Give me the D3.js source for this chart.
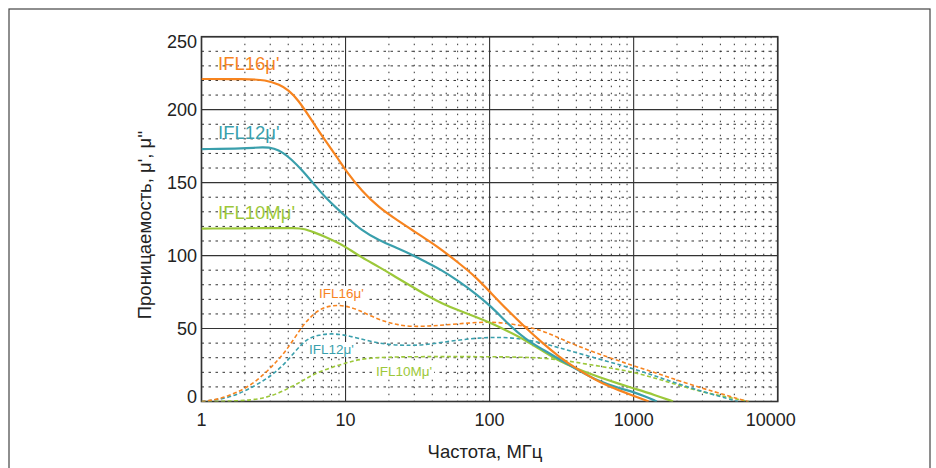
<!DOCTYPE html>
<html>
<head>
<meta charset="utf-8">
<script src="https://cdn.jsdelivr.net/npm/d3@7"></script>
<style>
  body { margin: 0; background: #fff; }
  text { font-family: "Liberation Sans", Arial, sans-serif; }
</style>
</head>
<body>
<div id="chart"></div>
<script>
// frequency (MHz) / permeability points
var ifl16re = [[1,221],[2,221],[2.8,220.5],[3.5,217],[4,213.5],[4.67,207],[5.8,193],[7.2,179],[9,165.5],[10,158.5],[13,144],[17,133],[23,124],[29,117.5],[38,110],[46.5,104],[60,95.5],[80,85.5],[103,74],[135,62],[176,51],[230,40.5],[300,31],[400,22.5],[580,13],[800,7.5],[1000,3.8],[1270,0]];
var ifl12re = [[1,173],[2,173.3],[2.7,174.5],[3.2,173.5],[3.7,170.5],[4.2,166],[5,158.5],[5.8,151],[7.2,140],[9,131],[10,127],[13,117],[17,110.5],[23,105],[29,100.5],[37,95],[46.5,90],[60,83],[80,74],[103,65],[135,53],[176,43],[230,36],[300,29.5],[400,22],[580,13.5],[800,9],[1000,6.5],[1200,3.5],[1450,0]];
var ifl10re = [[1,118.5],[3,118.8],[4.5,119],[5.2,118.3],[6,116],[7.2,113],[9,108.4],[10,106],[13,98.5],[17,92.4],[23,84.5],[29,78.7],[37,72.5],[46.5,67.3],[60,62.7],[80,58],[103,53.6],[135,48],[176,42.2],[230,35],[300,28],[400,22.5],[580,16.5],[800,12],[1000,9],[1400,4.5],[1880,0]];
var ifl16im = [[1,0],[1.3,1.3],[1.71,5.6],[2.2,11],[2.76,19.3],[3.3,27],[3.8,34],[4.4,43],[4.96,51],[5.6,57],[6.47,62.7],[7.5,65.3],[9,66.1],[10.5,65],[12.3,62.7],[15,58.5],[18.8,54.7],[23,52.5],[29,51.3],[38,51.7],[49,52.4],[70,53.8],[103,54.7],[150,53],[232,49],[325,42],[550,33],[1000,24.5],[1700,17],[3000,9],[4500,4],[6200,0]];
var ifl12im = [[1,0],[1.5,2],[2,7],[2.76,14.7],[3.3,20.5],[3.8,26.2],[4.4,33.5],[4.96,39.5],[5.6,43.5],[6.47,45.6],[8,46.7],[10,45.5],[12.3,43.3],[16,40.5],[20.9,38.7],[28,38.4],[35.6,38.7],[60,42.2],[103,44.4],[176,43.3],[300,37],[550,29.6],[1000,22.5],[1700,14.7],[3000,6.7],[5300,0]];
var ifl10im = [[1,0],[1.7,0.3],[2.2,1],[2.76,2.5],[3.4,5.5],[4.23,10.2],[5,14],[5.82,18],[7.2,21.8],[9,25],[11,27.5],[13.6,29.6],[20.9,30.7],[60,30.8],[176,30.6],[300,29],[550,24.5],[1000,20.4],[1700,13.6],[2900,6.7],[4500,3],[6300,0]];

var xTicks = [1, 10, 100, 1000, 10000];
var yTicks = [0, 50, 100, 150, 200, 250];
var colors = { o: "#f7841f", t: "#3a9fac", g: "#9cc83a" };

var W = 936, H = 468;
var pL = 201.5, pR = 777.7, pT = 36.7, pB = 401.5;

var svg = d3.select("#chart").append("svg")
    .attr("width", W)
    .attr("height", H);

svg.append("clipPath").attr("id", "plot")
  .append("rect")
    .attr("x", pL).attr("y", pT - 2)
    .attr("width", pR - pL).attr("height", pB - pT + 2);

// outer frame (bottom edge is off the picture)
svg.append("rect")
    .attr("x", 9).attr("y", 9)
    .attr("width", 921).attr("height", 480)
    .attr("fill", "none")
    .attr("stroke", "#444")
    .attr("stroke-width", 1.2);

var x = d3.scaleLog().domain([1, 10000]).range([pL, pR]);
var y = d3.scaleLinear().domain([0, 250]).range([pB, pT]);

// minor grid
var minorX = [];
for (var d = 1; d < 10000; d *= 10) {
  for (var k = 2; k <= 9; k++) minorX.push(d * k);
}
var minorY = d3.range(10, 250, 10).filter(function(v) { return v % 50 !== 0; });

var grid = svg.append("g");
grid.selectAll("line.mx").data(minorX).enter().append("line")
    .attr("x1", function(d) { return x(d); })
    .attr("x2", function(d) { return x(d); })
    .attr("y1", pT).attr("y2", pB)
    .attr("stroke", "#333")
    .attr("stroke-width", 1)
    .attr("stroke-dasharray", "1.5,5.5");
grid.selectAll("line.my").data(minorY).enter().append("line")
    .attr("x1", pL).attr("x2", pR)
    .attr("y1", function(d) { return y(d); })
    .attr("y2", function(d) { return y(d); })
    .attr("stroke", "#333")
    .attr("stroke-width", 1)
    .attr("stroke-dasharray", "2.5,4.5");

// major grid
grid.selectAll("line.Mx").data(xTicks).enter().append("line")
    .attr("x1", function(d) { return x(d); })
    .attr("x2", function(d) { return x(d); })
    .attr("y1", pT).attr("y2", pB)
    .attr("stroke", "#333").attr("stroke-width", 1.1);
grid.selectAll("line.My").data(yTicks).enter().append("line")
    .attr("x1", pL).attr("x2", pR)
    .attr("y1", function(d) { return y(d); })
    .attr("y2", function(d) { return y(d); })
    .attr("stroke", "#333").attr("stroke-width", 1.1);

svg.append("rect")
    .attr("x", pL).attr("y", pT)
    .attr("width", pR - pL).attr("height", pB - pT)
    .attr("fill", "none")
    .attr("stroke", "#333")
    .attr("stroke-width", 1.6);

// tick labels
svg.selectAll("text.yt").data(yTicks).enter().append("text")
    .attr("x", pL - 4.5)
    .attr("y", function(d) { return y(d); })
    .attr("dy", function(d) { return d === 0 ? "0.06em" : d === 250 ? "0.6em" : "0.34em"; })
    .attr("text-anchor", "end")
    .attr("font-size", 18)
    .attr("fill", "#222")
    .text(function(d) { return d; });

svg.selectAll("text.xt").data(xTicks).enter().append("text")
    .attr("x", function(d) { return d === 10000 ? x(d) - 7 : x(d); })
    .attr("y", 426)
    .attr("text-anchor", "middle")
    .attr("font-size", 18)
    .attr("fill", "#222")
    .text(function(d) { return d; });

// axis titles
svg.append("text")
    .attr("x", 485).attr("y", 458)
    .attr("text-anchor", "middle")
    .attr("font-size", 18.5)
    .attr("fill", "#222")
    .text("Частота, МГц");

svg.append("text")
    .attr("transform", "translate(151,225) rotate(-90)")
    .attr("text-anchor", "middle")
    .attr("font-size", 18.5)
    .attr("fill", "#222")
    .text("Проницаемость, μ', μ''");

// curves (B-spline smooths out reading noise)
var line = d3.line()
    .x(function(d) { return x(d[0]); })
    .y(function(d) { return y(d[1]); })
    .curve(d3.curveBasis);

var series = [
  { data: ifl10im, c: colors.g, dash: true },
  { data: ifl12im, c: colors.t, dash: true },
  { data: ifl16im, c: colors.o, dash: true },
  { data: ifl10re, c: colors.g, dash: false },
  { data: ifl12re, c: colors.t, dash: false },
  { data: ifl16re, c: colors.o, dash: false }
];

svg.append("g").attr("clip-path", "url(#plot)")
  .selectAll("path.curve").data(series).enter().append("path")
    .attr("class", "curve")
    .attr("d", function(s) { return line(s.data); })
    .attr("fill", "none")
    .attr("stroke", function(s) { return s.c; })
    .attr("stroke-width", function(s) { return s.dash ? 1.6 : 2.2; })
    .attr("stroke-dasharray", function(s) { return s.dash ? "4,2.5" : null; });

// labels
var bigLabels = [
  { t: "IFL16μ'", c: colors.o, x: 218, y: 70 },
  { t: "IFL12μ'", c: colors.t, x: 218, y: 139 },
  { t: "IFL10Mμ'", c: colors.g, x: 218, y: 219 }
];
var smallLabels = [
  { t: "IFL16μ'", c: colors.o, x: 319, y: 298 },
  { t: "IFL12μ'", c: colors.t, x: 309, y: 354 },
  { t: "IFL10Mμ'", c: colors.g, x: 376, y: 376 }
];

bigLabels.forEach(function(l) {
  svg.append("text")
      .attr("x", l.x).attr("y", l.y)
      .attr("font-size", 18.5)
      .attr("fill", l.c)
      .text(l.t);
});

smallLabels.forEach(function(l) {
  var bg = svg.append("rect").attr("fill", "#fff");
  var t = svg.append("text")
      .attr("x", l.x).attr("y", l.y)
      .attr("font-size", 13.5)
      .attr("fill", l.c)
      .text(l.t);
  var b = t.node().getBBox();
  bg.attr("x", b.x - 2).attr("y", b.y)
    .attr("width", b.width + 4).attr("height", b.height);
});
</script>
</body>
</html>
